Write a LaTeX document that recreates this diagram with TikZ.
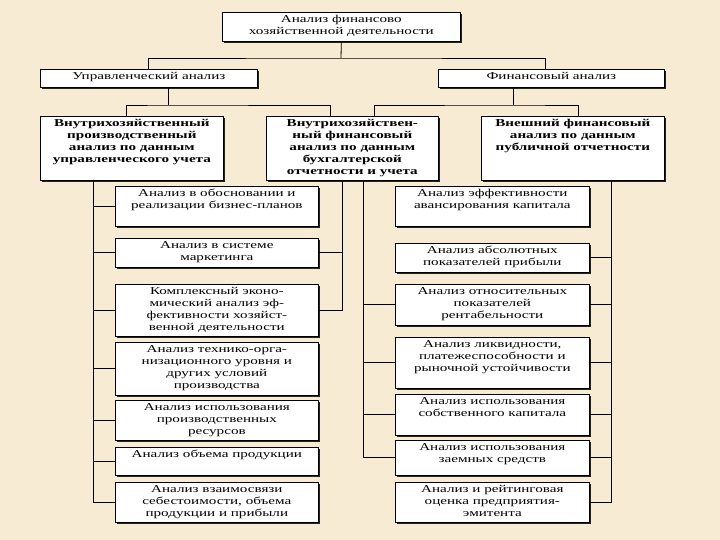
\documentclass[tikz,border=0pt]{standalone}
\usepackage{fontspec}
\setmainfont{Liberation Serif}[FakeStretch=1.44]
\usepackage{tikz}
\usetikzlibrary{shadows}
\definecolor{paper}{RGB}{247,236,211}

\tikzset{
  blk/.style={draw, fill=white, line width=0.7pt, inner sep=0pt,
    font=\fontsize{10.5}{12}\selectfont,
    drop shadow={shadow xshift=1.3pt, shadow yshift=-1.3pt, fill=black, opacity=0.85}},
  wire/.style={line width=0.8pt}
}
% name, x1, y1, x2, y2, text
\newcommand{\blk}[6]{%
  \node[blk, anchor=north west] (#1) at (#2,#3)
    {\parbox[c][\dimexpr#5pt-#3pt\relax][t]{\dimexpr#4pt-#2pt\relax}{\centering\vspace*{3pt}#6\par}};}

\begin{document}
\begin{tikzpicture}[x=1pt, y=-1pt]
                \useasboundingbox (0,0) rectangle (720,540);
                \fill[paper] (0,0) rectangle (720,540);

                \blk{top}{222}{12}{460}{41}{Анализ финансово\\хозяйственной деятельности}
                \blk{upr}{40}{69}{257}{87}{Управленческий анализ}
                \blk{fin}{438}{69}{664}{87}{Финансовый анализ}
                \blk{vnp}{40}{116}{223}{180}{\bfseries Внутрихозяйственный\\производственный\\анализ по данным\\управленческого учета}
                \blk{vnf}{266}{116}{438}{180}{\bfseries Внутрихозяйствен-\\ный финансовый\\анализ по данным\\бухгалтерской\\отчетности и учета}
                \blk{ext}{481}{116}{664}{180}{\bfseries Внешний финансовый\\анализ по данным\\публичной отчетности}

                % left column
                \blk{la1}{115}{186}{318}{226}{Анализ в обосновании и\\реализации бизнес-планов}
                \blk{la2}{115}{238}{318}{267}{Анализ в системе\\маркетинга}
                \blk{la3}{115}{284}{318}{336}{Комплексный эконо-\\мический анализ эф-\\фективности хозяйст-\\венной деятельности}
                \blk{la4}{115}{342}{318}{395}{Анализ технико-орга-\\низационного уровня и\\других условий\\производства}
                \blk{la5}{115}{400}{318}{440}{Анализ использования\\производственных\\ресурсов}
                \blk{la6}{115}{447}{318}{475}{Анализ объема продукции}
                \blk{la7}{115}{482}{318}{522}{Анализ взаимосвязи\\себестоимости, объема\\продукции и прибыли}

                % right column
                \blk{ra1}{395}{186}{589}{226}{Анализ эффективности\\авансирования капитала}
                \blk{ra2}{395}{243}{589}{272}{Анализ абсолютных\\показателей прибыли}
                \blk{ra3}{395}{284}{589}{325}{Анализ относительных\\показателей\\рентабельности}
                \blk{ra4}{395}{337}{589}{388}{Анализ ликвидности,\\платежеспособности и\\рыночной устойчивости}
                \blk{ra5}{395}{394}{589}{435}{Анализ использования\\собственного капитала}
                \blk{ra6}{395}{440}{589}{475}{Анализ использования\\заемных средств}
                \blk{ra7}{395}{482}{589}{522}{Анализ и рейтинговая\\оценка предприятия-\\эмитента}

                \coordinate (j0) at (341,58);
                \coordinate (j1) at (168,105);
                \coordinate (j2) at (513,105);
                \coordinate (xl) at (93,0);
                \coordinate (xm) at (342,0);
                \coordinate (xn) at (363,0);
                \coordinate (xr) at (611,0);

                \draw[wire] (top.south) -- (j0);
                \draw[wire] (upr.north) |- (j0) -| ([xshift=-6pt]fin.north);
                \draw[wire] (j1 |- upr.south) -- (j1);
                \draw[wire] ([xshift=-5.5pt]vnp.north) |- (j1) -| ([xshift=-22pt]vnf.north);
                \draw[wire] (j2 |- fin.south) -- (j2);
                \draw[wire] ([xshift=22pt]vnf.north) |- (j2) -| ([xshift=5.5pt]ext.north);

                \draw[wire] (vnp.south -| xl) |- (la7.west);
                \foreach \b in {la1,la2,la3,la4,la5,la6}
                    \draw[wire] (\b.west) -- (\b.west -| xl);
                \draw[wire] (vnf.south -| xm) |- (la3.east);
                \draw[wire] (la2.east) -- (la2.east -| xm);

                \draw[wire] (vnf.south -| xn) |- (ra6.west);
                \foreach \b in {ra3,ra4,ra5}
                    \draw[wire] (\b.west) -- (\b.west -| xn);
                \draw[wire] (ext.south -| xr) |- (ra7.east);
                \foreach \b in {ra2,ra3,ra4,ra5,ra6}
                    \draw[wire] (\b.east) -- (\b.east -| xr);
\end{tikzpicture}
\end{document}
